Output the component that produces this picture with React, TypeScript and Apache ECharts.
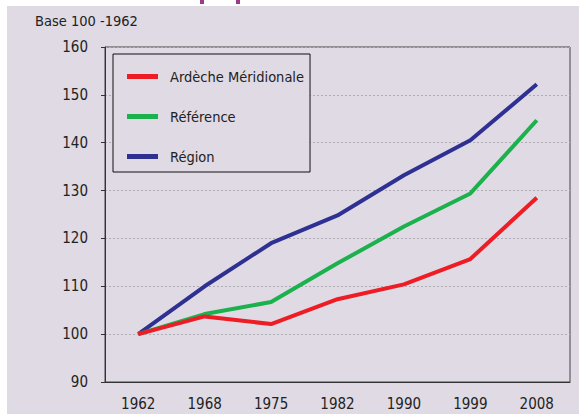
import React, { useEffect, useRef } from "react";
import * as echarts from "echarts";

const years = ["1962", "1968", "1975", "1982", "1990", "1999", "2008"];
const ardeche = [100, 103.7, 102.1, 107.3, 110.4, 115.7, 128.5];
const reference = [100, 104.2, 106.7, 114.8, 122.5, 129.4, 144.7];
const region = [100, 110, 119, 124.8, 133.2, 140.5, 152.2];
const seriesNames = ["Ardèche Méridionale", "Référence", "Région"];
const seriesColors = ["#ee1c25", "#1bb14c", "#2e3192"];

const FONT = "'Liberation Sans Narrow', 'DejaVu Sans Condensed', 'Roboto', sans-serif";

export default function App() {
  const ref = useRef<HTMLDivElement>(null);
  useEffect(() => {
    if (!ref.current) return;
    const chart = echarts.init(ref.current, null, { renderer: "svg" });
    const data = [ardeche, reference, region];
    chart.setOption({
      animation: false,
      backgroundColor: "#ffffff",
      textStyle: { fontFamily: FONT },
      graphic: [
        { type: "rect", z: -10, shape: { x: 7, y: 6, width: 572, height: 408 }, style: { fill: "#dfdae4" } },
        { type: "rect", shape: { x: 200, y: 0, width: 4, height: 4 }, style: { fill: "#9c3a86" } },
        { type: "rect", shape: { x: 236, y: 0, width: 4, height: 4 }, style: { fill: "#9c3a86" } },
        {
          type: "text",
          left: 35,
          top: 13,
          style: { text: "Base 100 -1962", fontSize: 14.5, fill: "#222", fontFamily: FONT },
        },
      ],
      legend: {
        left: 113,
        top: 54,
        orient: "vertical",
        data: seriesNames,
        icon: "rect",
        itemWidth: 31,
        itemHeight: 5,
        itemGap: 25,
        padding: [15, 6, 8, 14],
        borderColor: "#111",
        borderWidth: 1,
        backgroundColor: "#dfdae4",
        textStyle: { fontSize: 14.5, color: "#222", fontFamily: FONT, padding: [0, 0, 0, 7] },
      },
      grid: {
        left: 105,
        right: 9,
        top: 47,
        bottom: 32,
        show: true,
        borderColor: "#444",
        borderWidth: 1,
        backgroundColor: "transparent",
      },
      xAxis: {
        type: "category",
        data: years,
        boundaryGap: true,
        axisLine: { lineStyle: { color: "#333", width: 1 } },
        axisTick: { show: false },
        axisLabel: { fontSize: 15, color: "#222", margin: 14, fontFamily: FONT },
      },
      yAxis: {
        type: "value",
        min: 90,
        max: 160,
        interval: 10,
        axisLine: { show: true, lineStyle: { color: "#333", width: 1 } },
        axisTick: { show: true, length: 4, lineStyle: { color: "#333" } },
        axisLabel: { fontSize: 15, color: "#222", margin: 17, fontFamily: FONT },
        splitLine: { show: true, lineStyle: { color: "#b0acb4", type: [2, 2], width: 1 } },
      },
      series: seriesNames.map((name, i) => ({
        name,
        type: "line",
        data: data[i],
        symbol: "none",
        color: seriesColors[i],
        lineStyle: { width: 4, color: seriesColors[i] },
        z: 3 - i,
      })),
    });
    return () => chart.dispose();
  }, []);
  return (
    <div
      ref={ref}
      style={{ position: "fixed", left: 0, top: 0, width: 579, height: 414 }}
    />
  );
}
